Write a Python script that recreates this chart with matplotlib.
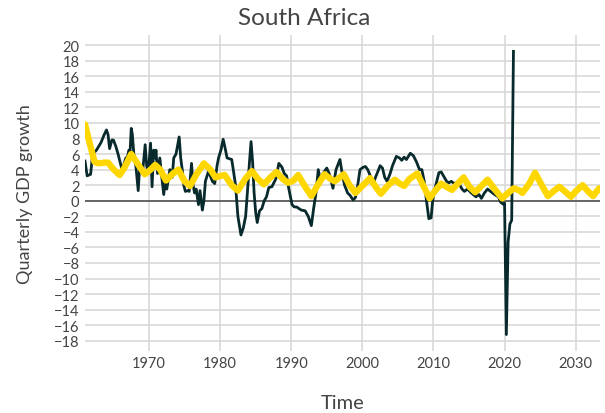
import numpy as np
import matplotlib.pyplot as plt

obs_t = [1961.0, 1961.3, 1961.79, 1962.07, 1962.61, 1963.26, 1963.7, 1964.02, 1964.24, 1964.46,
         1964.78, 1965.0, 1965.33, 1965.65, 1965.98, 1966.2, 1966.41, 1966.74, 1966.96, 1967.17,
         1967.34, 1967.5, 1967.66, 1967.88, 1968.15, 1968.48, 1968.7, 1969.13, 1969.46, 1969.67,
         1969.89, 1970.22, 1970.43, 1970.65, 1970.87, 1970.98, 1971.2, 1971.52, 1971.74, 1972.07,
         1972.28, 1972.5, 1972.72, 1972.93, 1973.26, 1973.48, 1973.8, 1974.24, 1974.46, 1974.67,
         1974.89, 1975.11, 1975.43, 1975.65, 1975.98, 1976.2, 1976.41, 1976.63, 1976.96, 1977.17,
         1977.5, 1977.72, 1977.93, 1978.37, 1978.7, 1978.91, 1979.24, 1979.57, 1979.78, 1980.11,
         1980.43, 1980.65, 1980.98, 1981.3, 1981.63, 1981.85, 1982.17, 1982.5, 1982.93, 1983.26,
         1983.59, 1983.91, 1984.13, 1984.35, 1984.57, 1984.78, 1985.0, 1985.22, 1985.54, 1985.87,
         1986.2, 1986.52, 1986.85, 1987.28, 1987.83, 1988.26, 1988.7, 1989.02, 1989.35, 1989.67,
         1990.11, 1990.43, 1990.76, 1991.09, 1991.41, 1991.96, 1992.39, 1992.83, 1993.15, 1993.48,
         1993.8, 1994.13, 1994.46, 1995.0, 1995.33, 1995.54, 1995.87, 1996.3, 1996.85, 1997.17,
         1997.5, 1997.93, 1998.26, 1998.7, 1999.02, 1999.35, 1999.67, 2000.11, 2000.43, 2000.76,
         2001.2, 2001.52, 2001.85, 2002.5, 2002.83, 2003.15, 2003.48, 2003.91, 2004.24, 2004.78,
         2005.22, 2005.54, 2005.87, 2006.2, 2006.74, 2007.17, 2007.61, 2008.04, 2008.37, 2008.7,
         2009.02, 2009.35, 2009.67, 2009.89, 2010.33, 2010.76, 2011.09, 2011.41, 2011.85, 2012.17,
         2012.5, 2012.93, 2013.48, 2014.02, 2014.35, 2014.78, 2015.33, 2015.98, 2016.41, 2016.74,
         2017.17, 2017.61, 2018.04, 2018.59, 2019.13, 2019.46, 2019.89, 2020.0, 2020.25, 2020.5,
         2020.75, 2021.0, 2021.25]
obs_v = [5.1, 3.2, 3.4, 6.0, 6.5, 7.5, 8.5, 9.1, 8.5, 6.7,
         7.8, 7.8, 7.0, 6.0, 4.8, 4.0, 4.5, 5.5, 5.6, 6.5,
         6.3, 9.3, 8.5, 5.8, 4.5, 1.3, 4.5, 4.0, 7.2, 4.5,
         3.5, 7.4, 1.8, 6.5, 5.5, 6.5, 3.5, 5.5, 3.5, 0.8,
         2.5, 1.5, 2.8, 4.0, 3.0, 5.5, 6.0, 8.2, 5.5, 4.0,
         2.0, 1.2, 1.3, 1.2, 4.8, 2.0, 1.0, 1.5, -0.5, 1.3,
         -1.2, 0.0, 2.5, 3.8, 3.0, 2.5, 2.2, 4.5, 5.5, 6.5,
         7.9, 7.0, 5.5, 5.4, 5.3, 4.0, 2.0, -2.0, -4.4, -3.5,
         -2.0, 2.0, 5.0, 7.6, 5.0, 1.0, -1.5, -2.8, -1.3, -1.0,
         0.0, 0.5, 1.7, 1.8, 2.8, 4.8, 4.3, 3.5, 3.2, 1.5,
         -0.5, -0.8, -0.8, -1.0, -1.2, -1.3, -2.0, -3.2, -1.0, 1.0,
         4.0, 2.5, 3.5, 4.2, 3.5, 2.8, 1.6, 4.0, 5.3, 3.5,
         2.0, 1.0, 0.7, 0.1, 0.4, 2.0, 4.0, 4.3, 4.4, 4.0,
         3.0, 2.2, 3.0, 4.5, 4.2, 3.0, 2.5, 3.5, 4.5, 5.7,
         5.5, 5.2, 5.6, 5.3, 6.1, 5.8, 5.0, 4.0, 4.0, 2.5,
         0.0, -2.3, -2.2, 0.0, 2.0, 3.6, 3.7, 3.2, 2.5, 2.3,
         2.5, 2.2, 2.4, 1.5, 1.2, 1.5, 1.0, 0.5, 0.8, 0.3,
         1.0, 1.5, 1.2, 0.8, 0.5, -0.2, -0.5, -0.3, -17.2, -5.3,
         -3.0, -2.5, 19.2]

fit_t = [1961.0, 1961.63, 1962.34, 1962.88, 1963.7, 1964.24, 1965.05, 1965.87, 1966.52, 1967.5,
         1968.59, 1969.4, 1970.22, 1970.87, 1971.58, 1972.39, 1973.37, 1974.13, 1975.0, 1975.76,
         1976.74, 1977.72, 1978.64, 1979.35, 1980.11, 1980.65, 1981.63, 1982.5, 1983.53, 1984.46,
         1985.33, 1986.14, 1987.07, 1987.93, 1988.8, 1989.57, 1990.33, 1990.98, 1991.96, 1992.83,
         1993.59, 1994.67, 1995.54, 1996.09, 1996.85, 1997.39, 1998.21, 1999.02, 2000.11, 2001.09,
         2001.85, 2002.61, 2003.64, 2004.57, 2005.27, 2005.87, 2006.63, 2007.72, 2008.53, 2009.46,
         2010.16, 2011.09, 2011.79, 2012.61, 2013.42, 2014.24, 2015.05, 2015.87, 2016.85, 2017.61,
         2018.59, 2019.67, 2020.49, 2021.3, 2022.12, 2022.5, 2023.48, 2024.29, 2025.11, 2026.09,
         2026.85, 2027.72, 2028.48, 2029.35, 2030.0, 2030.98, 2031.74, 2032.45, 2033.3]
fit_v = [9.8, 7.5, 5.0, 4.8, 4.9, 4.9, 4.0, 3.3, 4.2, 6.0,
         4.5, 3.4, 4.0, 4.6, 4.0, 2.6, 3.5, 4.0, 2.5, 1.9,
         3.5, 4.8, 4.0, 3.0, 3.2, 3.3, 2.0, 1.3, 2.8, 3.8,
         2.8, 2.1, 3.0, 3.7, 2.8, 2.3, 2.6, 3.3, 1.8, 0.6,
         1.8, 3.4, 2.8, 2.5, 3.0, 3.4, 2.0, 1.0, 2.0, 2.9,
         1.8, 0.9, 2.0, 2.7, 2.2, 1.9, 2.8, 3.5, 2.0, 0.3,
         1.2, 2.2, 1.8, 1.4, 2.2, 3.0, 1.8, 1.1, 2.0, 2.7,
         1.5, 0.3, 1.0, 1.6, 1.3, 1.0, 2.2, 3.6, 2.2, 0.6,
         1.2, 1.8, 1.2, 0.5, 1.2, 2.0, 1.2, 0.6, 1.6]

x_ticks = [1970, 1980, 1990, 2000, 2010, 2020, 2030]
y_ticks = list(range(-18, 21, 2))

plt.rcParams['font.family'] = ['Lato', 'DejaVu Sans']

fig = plt.figure(figsize=(6.05, 4.14), dpi=100)
ax = fig.add_axes([0.1405, 0.150, 0.851, 0.763])

ax.plot(obs_t, obs_v, color='#082a2c', lw=2.0, solid_joinstyle='round', zorder=3)
ax.plot(fit_t, fit_v, color='#ffd700', lw=4.6, solid_joinstyle='round',
        solid_capstyle='round', zorder=4)
ax.axhline(0, color='#444444', lw=1.1, zorder=2)

ax.set_xlim(1961.0, 2033.4)
ax.set_ylim(-19.3, 21.3)
ax.set_xticks(x_ticks)
ax.set_yticks(y_ticks)
ax.grid(True, color='#d6d6d6', lw=1.1, zorder=0)
ax.tick_params(length=0, labelsize=10.5, labelcolor='#444444', pad=4)
for s in ax.spines.values():
    s.set_visible(False)

ax.set_xlabel('Time', fontsize=14.5, color='#444444', labelpad=17)
ax.set_ylabel('Quarterly GDP growth', fontsize=13, color='#444444', labelpad=15)
fig.text(0.503, 0.955, 'South Africa', ha='center', va='center', fontsize=17.5, color='#444444')

fig.savefig('out.png', dpi=100)
